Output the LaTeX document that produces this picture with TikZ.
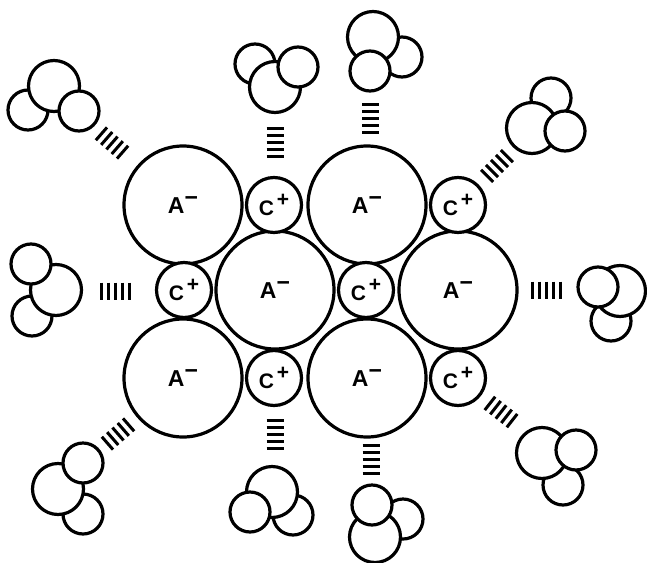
\documentclass[tikz,border=0pt]{standalone}
\usepackage{fontspec}
\setmainfont{Liberation Sans}
\begin{document}
\begin{tikzpicture}[x=1pt,y=-1pt,
  ring/.style={circle, draw, line width=3.2pt, fill=white, inner sep=0pt},
  anion/.style={ring, minimum size=118pt, font=\fontsize{23}{23}\selectfont\bfseries},
  cation/.style={ring, minimum size=55pt, font=\fontsize{21}{21}\selectfont\bfseries},
  bigatom/.style={ring, minimum size=51pt},
  smallatom/.style={ring, minimum size=40pt},
  hashbond/.pic={\foreach \k in {-2,...,2}{\draw[line width=3pt] (\k*7,-8.5) -- (\k*7,8.5);}}]
\useasboundingbox (0,0) rectangle (647,562);

% anions
\node[anion] (a1) at (183,205) {A\raisebox{7.8pt}{−}};
\node[anion] (a2) at (367,205) {A\raisebox{7.8pt}{−}};
\node[anion] (a3) at (275,290) {A\raisebox{7.8pt}{−}};
\node[anion] (a4) at (458,290) {A\raisebox{7.8pt}{−}};
\node[anion] (a5) at (183,378) {A\raisebox{7.8pt}{−}};
\node[anion] (a6) at (367,378) {A\raisebox{7.8pt}{−}};

% cations
\node[cation] (c1) at (274,205) {C\hspace{3pt}\raisebox{8.7pt}{+}};
\node[cation] (c2) at (458,205) {C\hspace{3pt}\raisebox{8.7pt}{+}};
\node[cation] (c3) at (184,290) {C\hspace{3pt}\raisebox{8.7pt}{+}};
\node[cation] (c4) at (366,290) {C\hspace{3pt}\raisebox{8.7pt}{+}};
\node[cation] (c5) at (274,378) {C\hspace{3pt}\raisebox{8.7pt}{+}};
\node[cation] (c6) at (458,378) {C\hspace{3pt}\raisebox{8.7pt}{+}};

% solvent molecules, drawn back to front
\node[smallatom] (m1a) at (28,110) {};
\node[bigatom]   (m1b) at (54,86) {};
\node[smallatom] (m1c) at (79,111) {};

\node[smallatom] (m2a) at (255,64) {};
\node[bigatom]   (m2b) at (275,87) {};
\node[smallatom] (m2c) at (298,67) {};

\node[smallatom] (m3a) at (402,57) {};
\node[bigatom]   (m3b) at (373,37) {};
\node[smallatom] (m3c) at (370,71) {};

\node[smallatom] (m4a) at (551,98) {};
\node[bigatom]   (m4b) at (532,128) {};
\node[smallatom] (m4c) at (565,131) {};

\node[smallatom] (m5a) at (32,316) {};
\node[bigatom]   (m5b) at (56,290) {};
\node[smallatom] (m5c) at (31,264) {};

\node[smallatom] (m6a) at (611,321) {};
\node[bigatom]   (m6b) at (620,291) {};
\node[smallatom] (m6c) at (598,287) {};

\node[smallatom] (m7a) at (83,514) {};
\node[bigatom]   (m7b) at (58,489) {};
\node[smallatom] (m7c) at (83,463) {};

\node[smallatom] (m8a) at (293,515) {};
\node[bigatom]   (m8b) at (272,492) {};
\node[smallatom] (m8c) at (250,512) {};

\node[smallatom] (m9a) at (403,519) {};
\node[bigatom]   (m9b) at (375,537) {};
\node[smallatom] (m9c) at (372,505) {};

\node[smallatom] (m10a) at (563,485) {};
\node[bigatom]   (m10b) at (542,453) {};
\node[smallatom] (m10c) at (576,450) {};

% hashed solvation bonds
\coordinate (h1) at (112,143);
\coordinate (h2) at (275,142.5);
\coordinate (h3) at (370.5,118.5);
\coordinate (h4) at (497,166);
\coordinate (h5) at (115.5,291);
\coordinate (h6) at (546,290);
\coordinate (h7) at (118,434);
\coordinate (h8) at (275,434.5);
\coordinate (h9) at (371,459.5);
\coordinate (h10) at (501,412);

\pic[rotate=-41] at (h1) {hashbond};
\pic[rotate=90]  at (h2) {hashbond};
\pic[rotate=90]  at (h3) {hashbond};
\pic[rotate=45]  at (h4) {hashbond};
\pic             at (h5) {hashbond};
\pic             at (h6) {hashbond};
\pic[rotate=41]  at (h7) {hashbond};
\pic[rotate=90]  at (h8) {hashbond};
\pic[rotate=90]  at (h9) {hashbond};
\pic[rotate=-38] at (h10) {hashbond};
\end{tikzpicture}
\end{document}
